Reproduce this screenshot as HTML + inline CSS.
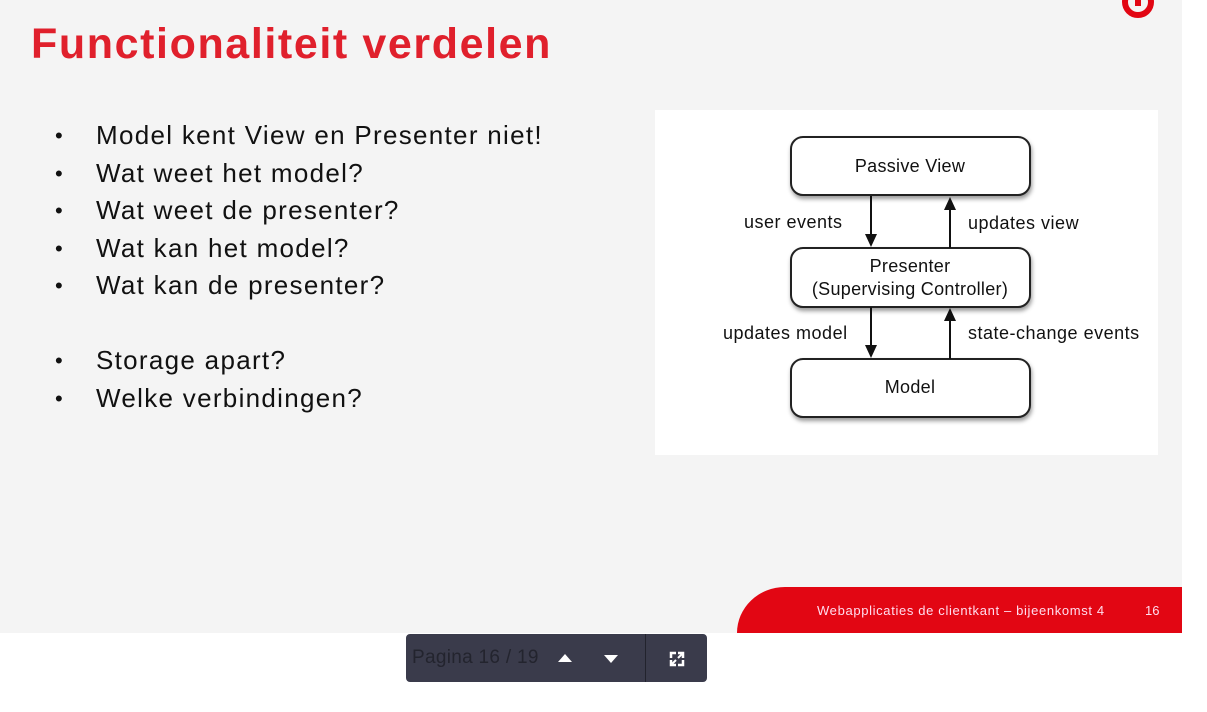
<!DOCTYPE html>
<html><head><meta charset="utf-8"><style>
body{margin:0;width:1207px;height:712px;background:#fff;position:relative;overflow:hidden;font-family:"Liberation Sans",sans-serif}
.slide{position:absolute;left:0;top:0;width:1182px;height:633px;background:#f4f4f4;overflow:hidden}
h1{position:absolute;left:31px;top:20px;margin:0;font-size:43px;font-weight:bold;color:#e0202c;letter-spacing:1.6px}
ul{position:absolute;left:55px;top:117px;margin:0;padding:0;list-style:none;font-size:26px;color:#111;letter-spacing:1.3px}
li{height:37.5px;line-height:37.5px;position:relative;padding-left:41px}
li.b:before{content:"•";position:absolute;left:0;font-size:22px}
.band{position:absolute;left:737px;top:587px;width:460px;height:50px;background:#e20613;border-top-left-radius:48px 46px}
.foot{position:absolute;left:817px;top:603px;color:#fde;font-size:13px;letter-spacing:0.65px}
.num{position:absolute;left:1145px;top:603px;color:#fde;font-size:13px}
.bar{position:absolute;left:406px;top:634px;width:301px;height:48px;background:#3a3b4b;border-radius:4px}
</style></head><body>
<div class="slide">
<h1>Functionaliteit verdelen</h1>
<svg style="position:absolute;left:1120px;top:-14px" width="36" height="34"><circle cx="18" cy="16" r="13" fill="none" stroke="#e20613" stroke-width="6"/><rect x="15" y="0" width="6" height="20" fill="#e20613"/></svg>
<ul>
<li class="b">Model kent View en Presenter niet!</li>
<li class="b">Wat weet het model?</li>
<li class="b">Wat weet de presenter?</li>
<li class="b">Wat kan het model?</li>
<li class="b">Wat kan de presenter?</li>
<li></li>
<li class="b">Storage apart?</li>
<li class="b">Welke verbindingen?</li>
</ul>
<svg style="position:absolute;left:655px;top:110px" width="503" height="345" font-family="Liberation Sans, sans-serif" font-size="18">
<rect width="503" height="345" fill="#fff"/>
<defs><filter id="s" x="-10%" y="-10%" width="130%" height="140%"><feDropShadow dx="1" dy="3" stdDeviation="2" flood-opacity="0.4"/></filter></defs>
<g fill="#fff" stroke="#222" stroke-width="2" filter="url(#s)">
<rect x="136" y="27" width="239" height="58" rx="12"/>
<rect x="136" y="138" width="239" height="59" rx="12"/>
<rect x="136" y="249" width="239" height="58" rx="12"/>
</g>
<g fill="#111" text-anchor="middle" letter-spacing="0.3">
<text x="255" y="62">Passive View</text>
<text x="255" y="162">Presenter</text>
<text x="255" y="185">(Supervising Controller)</text>
<text x="255" y="283">Model</text>
</g>
<g stroke="#111" stroke-width="2">
<line x1="216" y1="86" x2="216" y2="126"/><line x1="295" y1="138" x2="295" y2="98"/>
<line x1="216" y1="197" x2="216" y2="237"/><line x1="295" y1="249" x2="295" y2="209"/>
</g>
<g fill="#111">
<polygon points="210,124 222,124 216,137"/><polygon points="289,100 301,100 295,87"/>
<polygon points="210,235 222,235 216,248"/><polygon points="289,211 301,211 295,198"/>
</g>
<g fill="#111" letter-spacing="0.5">
<text x="89" y="118">user events</text>
<text x="313" y="119">updates view</text>
<text x="68" y="229">updates model</text>
<text x="313" y="229">state-change events</text>
</g>
</svg>
<div class="band"></div>
<div class="foot">Webapplicaties de clientkant – bijeenkomst 4</div>
<div class="num">16</div>
</div>
<div class="bar">
<span style="position:absolute;left:6px;top:13px;font-size:19px;color:#23242e;letter-spacing:0.3px">Pagina 16 / 19</span>
<svg style="position:absolute;left:152px;top:20px" width="14" height="8"><polygon points="0,8 14,8 7,0" fill="#fff"/></svg>
<svg style="position:absolute;left:198px;top:21px" width="14" height="8"><polygon points="0,0 14,0 7,8" fill="#fff"/></svg>
<div style="position:absolute;left:239px;top:0;width:1px;height:48px;background:#22232d"></div>
<svg style="position:absolute;left:261px;top:15px" width="20" height="20" fill="none" stroke="#fff" stroke-width="2.5"><path d="M4 9V4h5M11 4h5v5M16 11v5h-5M9 16H4v-5"/><path d="M5 15l4-4M15 5l-4 4" stroke-width="2"/></svg>
</div>
</body></html>
